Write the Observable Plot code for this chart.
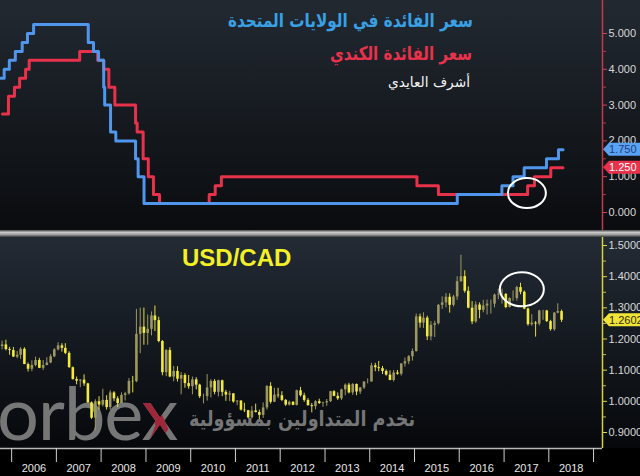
<!DOCTYPE html>
<html><head><meta charset="utf-8">
<script src="https://cdn.jsdelivr.net/npm/d3@7"></script>
<script src="https://cdn.jsdelivr.net/npm/@observablehq/plot@0.6"></script>
<style>
html,body{margin:0;padding:0;background:#000;}
#wrap{position:relative;width:640px;height:476px;overflow:hidden;background:#000;}
#topPanel{position:absolute;left:0;top:0;width:640px;height:230px;background:linear-gradient(#222931,#0a0c0f);}
#sep{position:absolute;left:0;top:230px;width:640px;height:7px;background:linear-gradient(#4a4a4a,#c8c8c8 35%,#a0a0a0 65%,#3a3a3a);}
#botPanel{position:absolute;left:0;top:237px;width:640px;height:239px;background:linear-gradient(#232b35 0px,#06080b 211px,#000 211px);}
.layer{position:absolute;left:0;top:0;}
</style></head>
<body><div id="wrap">
<div id="topPanel"></div>
<div id="sep"></div>
<div id="botPanel"></div>
</div>
<script>
// ---------- DATA ----------
const usDates = ["2005-09-20","2005-11-01","2005-12-13","2006-01-31","2006-03-28","2006-05-10","2006-06-29","2007-09-18","2007-10-31","2007-12-11","2008-01-22","2008-01-30","2008-03-18","2008-04-30","2008-10-08","2008-10-29","2008-12-16","2015-12-16","2016-12-14","2017-03-15","2017-06-14","2017-12-13","2018-03-21","2018-04-27"];
const usRates = [3.75,4.00,4.25,4.50,4.75,5.00,5.25,4.75,4.50,4.25,3.50,3.00,2.25,2.00,1.50,1.00,0.25,0.50,0.75,1.00,1.25,1.50,1.75,1.75];
const caDates = ["2005-10-18","2005-12-06","2006-01-24","2006-03-07","2006-04-25","2006-05-24","2007-07-10","2007-12-04","2008-01-22","2008-03-04","2008-04-22","2008-10-08","2008-10-21","2008-12-09","2009-01-20","2009-03-03","2009-04-21","2010-06-01","2010-07-20","2010-09-08","2015-01-21","2015-07-15","2017-07-12","2017-09-06","2018-01-17","2018-04-27"];
const caRates = [2.75,3.25,3.50,3.75,4.00,4.25,4.50,4.25,4.00,3.50,3.00,2.50,2.25,1.50,1.00,0.50,0.25,0.50,0.75,1.00,0.75,0.50,0.75,1.00,1.25,1.25];

const fxStart = "2005-10-15"; // first monthly candle (Oct 2005), one candle per month
const fxOpen = [
 1.1760,1.1810,1.1660,
 1.1630,1.1420,1.1480,1.1670,1.1180,1.1030,1.1150,1.1310,1.1060,1.1150,1.1230,1.1430,
 1.1650,1.1780,1.1700,1.1540,1.1080,1.0700,1.0650,1.0680,1.0560,0.9950,0.9460,0.9990,
 0.9880,1.0030,0.9800,1.0270,1.0080,0.9930,1.0190,1.0240,1.0640,1.0630,1.2150,1.2380,
 1.2180,1.2310,1.2740,1.2590,1.1920,1.0920,1.1630,1.0780,1.0960,1.0710,1.0830,1.0570,
 1.0470,1.0690,1.0520,1.0150,1.0150,1.0430,1.0640,1.0290,1.0660,1.0290,1.0200,1.0240,
 0.9980,1.0010,0.9720,0.9700,0.9470,0.9690,0.9640,0.9550,0.9790,1.0480,0.9970,1.0200,
 1.0180,1.0030,0.9880,0.9970,0.9870,1.0340,1.0180,1.0030,0.9860,0.9830,0.9990,0.9930,
 0.9950,0.9990,1.0310,1.0160,1.0080,1.0370,1.0520,1.0270,1.0540,1.0300,1.0430,1.0620,
 1.0620,1.1140,1.1080,1.1050,1.0960,1.0840,1.0670,1.0910,1.0870,1.1200,1.1270,1.1430,
 1.1600,1.2710,1.2510,1.2670,1.2070,1.2440,1.2490,1.3080,1.3160,1.3340,1.3080,1.3350,
 1.3840,1.4000,1.3530,1.2990,1.2550,1.3090,1.2920,1.3060,1.3120,1.3120,1.3410,1.3430,
 1.3430,1.3010,1.3300,1.3300,1.3650,1.3500,1.2960,1.2460,1.2510,1.2480,1.2900,1.2900,
 1.2560,1.2300,1.2830,1.2880];
const fxHigh = [
 1.1930,1.1960,1.1730,
 1.1730,1.1600,1.1720,1.1720,1.1230,1.1300,1.1420,1.1380,1.1310,1.1400,1.1500,1.1690,
 1.1880,1.1850,1.1850,1.1590,1.1100,1.0780,1.0700,1.0850,1.0580,0.9980,1.0050,1.0150,
 1.0390,1.0180,1.0340,1.0310,1.0150,1.0270,1.0290,1.0730,1.0800,1.2950,1.2990,1.2990,
 1.2770,1.2870,1.3060,1.2700,1.1950,1.1660,1.1720,1.1120,1.1110,1.0920,1.0890,1.0830,
 1.0780,1.0760,1.0550,1.0230,1.0860,1.0690,1.0700,1.0680,1.0680,1.0350,1.0320,1.0250,
 1.0020,1.0020,0.9940,0.9710,0.9830,0.9910,0.9720,0.9950,1.0500,1.0600,1.0420,1.0420,
 1.0310,1.0060,1.0010,0.9990,1.0360,1.0450,1.0260,1.0090,0.9930,1.0020,1.0070,0.9970,
 1.0060,1.0320,1.0340,1.0270,1.0390,1.0560,1.0580,1.0570,1.0560,1.0440,1.0630,1.0720,
 1.1220,1.1220,1.1280,1.1120,1.1010,1.0980,1.0990,1.0990,1.1210,1.1390,1.1470,1.1680,
 1.2800,1.2800,1.2840,1.2730,1.2560,1.2570,1.3110,1.3350,1.3460,1.3450,1.3400,1.4000,
 1.4690,1.4190,1.3670,1.3200,1.3190,1.3160,1.3240,1.3250,1.3250,1.3440,1.3600,1.3600,
 1.3460,1.3320,1.3540,1.3690,1.3790,1.3540,1.2990,1.2780,1.2560,1.2920,1.2920,1.2920,
 1.2600,1.2850,1.3130,1.2930];
const fxLow = [
 1.1650,1.1620,1.1480,
 1.1410,1.1370,1.1350,1.1180,1.0940,1.0950,1.1110,1.1050,1.0990,1.1140,1.1210,1.1400,
 1.1620,1.1580,1.1500,1.1060,1.0680,1.0530,1.0440,1.0480,0.9940,0.9420,0.9060,0.9720,
 0.9820,0.9720,0.9720,0.9990,0.9800,0.9930,1.0010,1.0200,1.0270,1.0600,1.1530,1.1800,
 1.1800,1.2100,1.2240,1.1880,1.0820,1.0790,1.0760,1.0630,1.0620,1.0210,1.0420,1.0390,
 1.0210,1.0370,1.0090,0.9920,1.0010,1.0110,1.0210,1.0140,1.0150,1.0000,0.9990,0.9940,
 0.9860,0.9690,0.9640,0.9440,0.9440,0.9630,0.9410,0.9450,0.9720,0.9910,0.9960,1.0100,
 0.9990,0.9840,0.9850,0.9860,0.9850,1.0140,0.9970,0.9850,0.9630,0.9730,0.9900,0.9810,
 0.9840,0.9960,1.0150,1.0030,1.0030,1.0180,1.0240,1.0190,1.0180,1.0220,1.0380,1.0560,
 1.0620,1.0950,1.0950,1.0860,1.0810,1.0660,1.0620,1.0840,1.0810,1.1100,1.1180,1.1290,
 1.1580,1.2350,1.2340,1.1950,1.1940,1.2050,1.2450,1.2950,1.3000,1.2830,1.3030,1.3240,
 1.3820,1.3470,1.2970,1.2460,1.2500,1.2650,1.2840,1.2770,1.2800,1.3000,1.3260,1.3120,
 1.2970,1.3000,1.3210,1.3220,1.3420,1.2940,1.2410,1.2410,1.2060,1.2420,1.2600,1.2530,
 1.2250,1.2250,1.2810,1.2530];
const fxClose = [
 1.1810,1.1660,1.1630,
 1.1420,1.1480,1.1670,1.1180,1.1030,1.1150,1.1310,1.1060,1.1150,1.1230,1.1430,1.1650,
 1.1780,1.1700,1.1540,1.1080,1.0700,1.0650,1.0680,1.0560,0.9950,0.9460,0.9990,0.9880,
 1.0030,0.9800,1.0270,1.0080,0.9930,1.0190,1.0240,1.0640,1.0630,1.2150,1.2380,1.2180,
 1.2310,1.2740,1.2590,1.1920,1.0920,1.1630,1.0780,1.0960,1.0710,1.0830,1.0570,1.0470,
 1.0690,1.0520,1.0150,1.0150,1.0430,1.0640,1.0290,1.0660,1.0290,1.0200,1.0240,0.9980,
 1.0010,0.9720,0.9700,0.9470,0.9690,0.9640,0.9550,0.9790,1.0480,0.9970,1.0200,1.0180,
 1.0030,0.9880,0.9970,0.9870,1.0340,1.0180,1.0030,0.9860,0.9830,0.9990,0.9930,0.9950,
 0.9990,1.0310,1.0160,1.0080,1.0370,1.0520,1.0270,1.0540,1.0300,1.0430,1.0620,1.0620,
 1.1140,1.1080,1.1050,1.0960,1.0840,1.0670,1.0910,1.0870,1.1200,1.1270,1.1430,1.1600,
 1.2710,1.2510,1.2670,1.2070,1.2440,1.2490,1.3080,1.3160,1.3340,1.3080,1.3350,1.3840,
 1.4000,1.3530,1.2990,1.2550,1.3090,1.2920,1.3060,1.3120,1.3120,1.3410,1.3430,1.3430,
 1.3010,1.3300,1.3300,1.3650,1.3500,1.2960,1.2460,1.2510,1.2480,1.2900,1.2900,1.2560,
 1.2300,1.2830,1.2880,1.2602];

const years = [2006,2007,2008,2009,2010,2011,2012,2013,2014,2015,2016,2017,2018];
const rateTicks = [0,1,2,3,4,5];
const rateMinor = [0.5,1.5,2.5,3.5,4.5];
const fxTicks = [0.9,1.0,1.1,1.2,1.3,1.4,1.5];
const fxMinor = [0.95,1.05,1.15,1.25,1.35,1.45];
const usLast = 1.75, caLast = 1.25, fxLast = 1.2602;
const titleUS = "سعر الفائدة في الولايات المتحدة";
const titleCA = "سعر الفائدة الكندي";
const author = "أشرف العايدي";
const fxTitle = "USD/CAD";
const brand = "orbe", brandX = "x";
const slogan = "نخدم المتداولين بمسؤولية";

// ---------- BUILD ----------
const parse = d3.utcParse("%Y-%m-%d");
const us = usDates.map((d,i)=>({date: parse(d), rate: usRates[i]}));
const ca = caDates.map((d,i)=>({date: parse(d), rate: caRates[i]}));
const m0 = parse(fxStart);
const fx = fxClose.map((c,i)=>({date: d3.utcMonth.offset(m0, i), open: fxOpen[i], high: fxHigh[i], low: fxLow[i], close: c}));

const xDomain = [parse("2005-10-02"), parse("2019-03-15")];
const BLUE = "#4f96ec", RED = "#e8324b", YEL = "#f2ea3c", UP = "#9d9762";
const FONT = "'Liberation Sans', Arial, sans-serif";
const axisFont = {background:"transparent", color:"#d8d8d8", fontFamily: FONT, fontSize:"11px"};

function tag(value, bg, fg, label){
  return (index, {x, y}, values, dim) => {
    const x0 = x(xDomain[1]) + 1, yy = y(value), w = dim.width;
    const g = d3.create("svg:g");
    g.append("path").attr("d", `M${x0},${yy} L${x0+6},${yy-6.5} L${w},${yy-6.5} L${w},${yy+6.5} L${x0+6},${yy+6.5} Z`).attr("fill", bg);
    g.append("text").attr("x", x0+6).attr("y", yy).attr("dy","0.36em").attr("fill", fg).attr("text-anchor","start")
      .attr("font-size", 11).attr("font-family", FONT).text(label);
    return g.node();
  };
}
function ring(date, value, rx, ry){
  return (index, {x, y}) => {
    const e = d3.create("svg:ellipse");
    e.attr("cx", x(parse(date))).attr("cy", y(value)).attr("rx", rx).attr("ry", ry)
     .attr("fill","none").attr("stroke","#fff").attr("stroke-width",2);
    return e.node();
  };
}

const topPlot = Plot.plot({
  width: 640, height: 230, marginLeft: 0, marginRight: 38, marginTop: 0, marginBottom: 0,
  style: axisFont,
  x: {type: "utc", domain: xDomain, axis: null},
  y: {domain: [-0.503, 5.922], axis: null},
  marks: [
    Plot.ruleX([xDomain[1]], {stroke: "#c43a4c", strokeWidth: 1.5}),
    Plot.axisY({anchor: "right", label: null, ticks: rateTicks, tickFormat: d3.format(".3f"), tickSize: 4, tickPadding: 2, stroke: "#d04458", fill: "#d8d8d8"}),
    Plot.axisY({anchor: "right", label: null, ticks: rateMinor, tickFormat: () => "", tickSize: 3, stroke: "#b03a4a"}),
    Plot.line(ca, {x: "date", y: "rate", curve: "step-after", stroke: RED, strokeWidth: 3, clip: true}),
    Plot.line(us, {x: "date", y: "rate", curve: "step-after", stroke: BLUE, strokeWidth: 3, clip: true}),
    ring("2017-07-10", 0.53, 19, 15),
    tag(usLast, "#5aa2f2", "#1c3f7a", d3.format(".3f")(usLast)),
    tag(caLast, "#e8324b", "#ffffff", d3.format(".3f")(caLast))
  ]
});

const botPlot = Plot.plot({
  width: 640, height: 239, marginLeft: 0, marginRight: 38, marginTop: 0, marginBottom: 28,
  style: axisFont,
  x: {type: "utc", domain: xDomain, axis: null},
  y: {domain: [0.8487, 1.5257], axis: null},
  marks: [
    Plot.ruleX([xDomain[1]], {stroke: "#d8d040", strokeWidth: 1.5}),
    Plot.ruleY([0.8487], {stroke: "#b8b8b8", strokeWidth: 1.5}),
    Plot.axisY({anchor: "right", label: null, ticks: fxTicks, tickFormat: d3.format(".4f"), tickSize: 4, tickPadding: 2, stroke: "#e0d840", fill: "#d8d8d8"}),
    Plot.axisY({anchor: "right", label: null, ticks: fxMinor, tickFormat: () => "", tickSize: 3, stroke: "#c8c040"}),
    Plot.axisX({anchor: "bottom", label: null, ticks: years.concat([2019]).map(y => new Date(Date.UTC(y,0,1))), tickFormat: () => "", tickSize: 14, stroke: "#d0d0d0"}),
    Plot.axisX({anchor: "bottom", label: null, ticks: years.map(y => new Date(Date.UTC(y,6,2))), tickFormat: d3.utcFormat("%Y"), tickSize: 0, tickPadding: 16, fill: "#e6e6e6"}),
    Plot.ruleX(fx, {x: "date", y1: "low", y2: "high", stroke: d => d.close >= d.open ? UP : "#e4dc3a", strokeWidth: 1}),
    Plot.ruleX(fx, {x: "date", y1: "open", y2: "close", stroke: d => d.close >= d.open ? UP : YEL, strokeWidth: 2.6}),
    ring("2017-05-30", 1.358, 22, 17),
    tag(fxLast, "#f0e436", "#2a2a10", d3.format(".4f")(fxLast))
  ]
});

const wrap = document.getElementById("wrap");
const topPanel = document.getElementById("topPanel");
const botPanel = document.getElementById("botPanel");

// watermark under candles
const wm = d3.create("svg").attr("class","layer").attr("width",640).attr("height",239);
botPanel.appendChild(wm.node());
const BF = "Lato, 'Open Sans', sans-serif";
const t1 = wm.append("text").attr("x", -3).attr("y", 203).attr("font-family", BF)
  .attr("font-size", 74).attr("letter-spacing", -1).attr("fill","#8a8a8a").attr("fill-opacity",0.85).text(brand);
const bx = -3 + t1.node().getComputedTextLength() - 1;
const defs = wm.append("defs");
const cp = defs.append("clipPath").attr("id","xclip");
cp.append("polygon").attr("points", `${bx-2},160 ${bx+13},160 ${bx+27},192 ${bx+19},204 ${bx+8},204 ${bx+14},188`);
wm.append("text").attr("x", bx).attr("y", 203).attr("font-family", BF)
  .attr("font-size", 74).attr("fill","#8a8a8a").attr("fill-opacity",0.85).text(brandX);
wm.append("text").attr("x", bx).attr("y", 203).attr("font-family", BF)
  .attr("font-size", 74).attr("fill","#a0263a").attr("clip-path","url(#xclip)").text(brandX);
wm.append("text").attr("x", 415).attr("y", 189).attr("text-anchor","end")
  .attr("font-family","'DejaVu Sans', sans-serif").attr("font-weight","bold").attr("font-size", 21)
  .attr("textLength", 226).attr("lengthAdjust","spacingAndGlyphs")
  .attr("fill","#8a8a8a").attr("fill-opacity",0.85).text(slogan);

topPlot.classList.add("layer");
botPlot.classList.add("layer");
topPanel.appendChild(topPlot);
botPanel.appendChild(botPlot);

// titles overlay
const ov = d3.create("svg").attr("class","layer").attr("width",640).attr("height",476);
const tf = "'DejaVu Sans', sans-serif";
ov.append("text").attr("x",473).attr("y",27).attr("text-anchor","end").attr("font-family",tf)
  .attr("font-weight","bold").attr("font-size",19).attr("textLength",245).attr("lengthAdjust","spacingAndGlyphs")
  .attr("fill","#3aa0e4").text(titleUS);
ov.append("text").attr("x",472).attr("y",60).attr("text-anchor","end").attr("font-family",tf)
  .attr("font-weight","bold").attr("font-size",19).attr("textLength",142).attr("lengthAdjust","spacingAndGlyphs")
  .attr("fill",RED).text(titleCA);
ov.append("text").attr("x",470).attr("y",87).attr("text-anchor","end").attr("font-family",tf)
  .attr("font-size",14).attr("textLength",82).attr("lengthAdjust","spacingAndGlyphs")
  .attr("fill","#f4f4f4").text(author);
ov.append("text").attr("x",182).attr("y",266).attr("font-family",FONT)
  .attr("font-weight","bold").attr("font-size",24).attr("fill","#f4f028").text(fxTitle);
wrap.appendChild(ov.node());
</script>
</body></html>
